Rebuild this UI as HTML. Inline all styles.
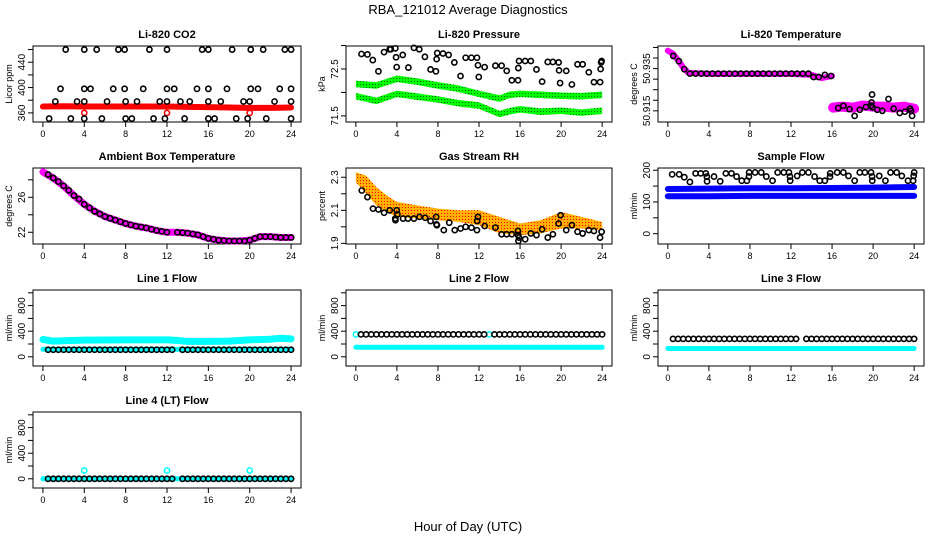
<!DOCTYPE html>
<html><head><meta charset="utf-8"><style>
html,body{margin:0;padding:0;background:#fff}
svg{display:block;font-family:"Liberation Sans",sans-serif}
</style></head><body>
<svg id="chart" width="936" height="540" viewBox="0 0 936 540">
<text x="468" y="14" text-anchor="middle" font-size="13">RBA_121012  Average Diagnostics</text>
<text x="468" y="531" text-anchor="middle" font-size="13">Hour of Day (UTC)</text>
</svg>
<script>
// ---- data ----
const co2TopX=[2.2,4,5.2,7.3,7.9,10.3,12,15.4,16,18.3,20.1,21.3,23.4,24];
const co2Row2X=[1.7,4,4.6,6.8,7.9,9.7,12,12.7,14.9,16,17.8,20.1,20.8,22.9,24];
const co2Row3X=[1.2,3.3,4,6.2,8,9.1,11.3,12,13.3,14.2,16,17.2,19.4,20,22.4,24];
const co2Row4X=[0.6,2.7,4,5.7,8,8.6,10.7,11.8,13.7,16,16.6,18.7,19.8,21.6,24];
const co2Levels=[460,398,378,351];
const co2BandX=[0,2,4,6,8,10,12,14,16,18,20,22,24];
const co2BandY=[370,370.5,370,370,370,370,370,369.5,369,368.5,368,368,368.5];
const co2OutX=[4,12,20];
const co2OutY=[360,360,360];

const presX=[0.55,1.13,1.65,2.2,2.75,3.3,3.4,3.85,3.92,3.98,4.57,5.12,5.66,6.18,6.73,7.28,7.8,7.87,7.93,8.49,9.04,9.6,10.2,10.7,11.26,11.8,11.9,11.98,12.55,13.6,14.2,14.7,15.2,15.8,15.83,15.9,16.5,17.05,17.6,18.15,18.7,19.2,19.76,19.8,19.9,20.5,21.05,21.6,22.1,22.7,23.2,23.8,23.85,23.9,23.95];
const presY=[72.82,72.81,72.69,72.45,72.86,72.92,72.92,72.94,72.75,72.54,72.80,72.53,72.95,72.92,72.76,72.49,72.45,72.71,72.84,72.83,72.80,72.64,72.35,72.74,72.74,72.74,72.58,72.33,72.54,72.57,72.57,72.46,72.26,72.26,72.52,72.67,72.67,72.67,72.49,72.23,72.65,72.65,72.64,72.47,72.2,72.46,72.17,72.6,72.6,72.43,72.22,72.22,72.5,72.64,72.67];
const presHrs=[0,2,4,6,8,10,12,14,15,16,18,20,22,24];
const presUpper=[72.18,72.15,72.29,72.23,72.15,72.08,71.97,71.87,71.95,71.97,71.95,71.93,71.92,71.95];
const presLower=[71.92,71.82,71.97,71.91,71.85,71.77,71.72,71.54,71.6,71.64,71.59,71.61,71.57,71.61];

const tempHrsA=[0,0.5,1,1.5,2,4,8,12,14,15,16];
const tempValsA=[50.9435,50.942,50.939,50.9355,50.933,50.9325,50.9325,50.9325,50.932,50.9305,50.9315];
const tempHrsB=[16.1,17,18,19,20,21,22,23,24];
const tempValsB=[50.9165,50.917,50.9165,50.9175,50.917,50.917,50.9165,50.917,50.916];
const tempPtX=[0.52,1.07,1.6,2.15,2.7,3.25,3.8,4.35,4.9,5.45,6,6.55,7.1,7.65,8.2,8.75,9.3,9.85,10.4,10.95,11.5,12.05,12.6,13.15,13.7,14.2,14.7,15.3,15.9,16.6,17.1,17.7,18.2,18.7,19.3,19.8,19.85,19.9,19.95,20.4,20.9,21.5,22,22.6,23.1,23.6,23.7,23.8];
const tempPtY=[50.941,50.9385,50.9347,50.9326,50.9326,50.9326,50.9326,50.9326,50.9326,50.9326,50.9326,50.9326,50.9326,50.9326,50.9326,50.9326,50.9326,50.9326,50.9326,50.9326,50.9326,50.9326,50.9326,50.9326,50.9326,50.931,50.931,50.932,50.9315,50.9163,50.9174,50.9158,50.9126,50.9155,50.9168,50.9174,50.919,50.9227,50.9166,50.9155,50.915,50.9206,50.916,50.914,50.9146,50.916,50.915,50.9126];

const ambHrs=[0,1,2,3,4,5,6,7,8,9,10,11,12,13,14,15,16,17,18,19,20,21,22,23,24];
const ambVals=[28.9,28.2,27.3,26.2,25.2,24.4,23.8,23.4,23.0,22.7,22.5,22.2,22.0,22.0,21.9,21.7,21.3,21.1,21.0,21.0,21.1,21.5,21.5,21.4,21.4];
const ambPtX=[0.5,1,1.5,2,2.5,3,3.5,4,4.5,5,5.5,6,6.5,7,7.5,8,8.5,9,9.5,10,10.5,11,11.5,12,13,13.5,14,14.5,15,15.5,16,16.5,17,17.5,18,18.5,19,19.5,20,20.5,21,21.5,22,22.5,23,23.5,24];
const ambPtY=[28.6,28.2,27.8,27.3,26.8,26.2,25.8,25.2,24.8,24.4,24.1,23.8,23.6,23.4,23.2,23.0,22.85,22.7,22.6,22.5,22.35,22.2,22.1,22.0,22.0,21.95,21.9,21.8,21.7,21.5,21.3,21.2,21.1,21.05,21.0,21.0,21.0,21.0,21.1,21.3,21.5,21.5,21.5,21.45,21.4,21.4,21.4];

const rhHrs=[0,1,2,3,4,6,8,10,12,14,16,18,20,22,24];
const rhHi=[2.33,2.31,2.24,2.19,2.15,2.13,2.11,2.10,2.10,2.06,2.02,2.04,2.09,2.06,2.03];
const rhLo=[2.27,2.20,2.13,2.09,2.06,2.05,2.04,2.03,2.01,1.96,1.95,1.96,1.99,1.99,1.98];
const rhPtX=[0.58,1.13,1.67,2.2,2.75,3.3,3.84,3.86,3.98,4.05,4.6,5.08,5.66,6.2,6.76,7.28,7.83,7.85,7.9,8.57,9.1,9.64,10.2,10.7,11.26,11.8,11.82,11.9,12.55,13.6,14.2,14.7,15.2,15.8,15.82,15.84,15.9,16.5,17.05,17.6,18.15,18.7,19.2,19.76,19.95,20.5,21.05,21.6,22.1,22.7,23.2,23.8,23.95];
const rhPtY=[2.22,2.18,2.11,2.105,2.085,2.10,2.05,2.04,2.10,2.075,2.05,2.05,2.05,2.06,2.055,2.035,2.06,2.015,2.01,1.98,2.025,1.98,1.99,2.0,1.995,1.98,2.035,2.06,2.005,1.995,1.955,1.955,1.955,1.975,1.95,1.915,1.935,1.925,1.96,1.95,1.985,1.935,1.955,2.02,2.07,1.98,2.01,1.97,1.96,1.98,1.975,1.935,1.97];

const sfPtX=[0.42,1.1,1.6,2.15,2.7,3.2,3.7,3.8,3.82,4.5,5.1,5.65,6.2,6.7,7.2,7.7,7.9,7.92,8.5,9.1,9.6,10.2,10.7,11.3,11.8,11.9,11.92,12.6,13.1,13.7,14.3,14.8,15.3,15.8,15.82,16.5,17.1,17.6,18.2,18.7,19.2,19.8,19.9,19.92,20.6,21.2,21.7,22.3,22.8,23.4,23.9,23.95,24];
const sfPtY=[187,187,178,163,190,190,190,180,165,180,165,190,190,180,167,167,180,193,193,193,180,167,193,193,193,180,167,182,193,193,180,167,167,180,190,193,193,182,167,193,193,193,180,167,182,167,193,193,182,167,167,182,193];
const sfHrs=[0,4,8,12,16,20,24];
const sfUpper=[141,142,143,143,144,145,147];
const sfLower=[118,118,119,119,119,119,119];

const flowHrs=[0.5,1,1.5,2,2.5,3,3.5,4,4.5,5,5.5,6,6.5,7,7.5,8,8.5,9,9.5,10,10.5,11,11.5,12,12.5,13.5,14,14.5,15,15.5,16,16.5,17,17.5,18,18.5,19,19.5,20,20.5,21,21.5,22,22.5,23,23.5,24];
const bandHrs=[0,1,2,4,8,12,13,14,16,18,20,22,23,24];
const l1Upper=[270,245,250,260,265,265,255,240,240,245,265,275,290,280];
const l1Lower=[118,118,118,118,118,118,118,118,118,118,118,118,118,118];
const l1Black=[110,110,110,110,110,110,110,110,110,110,110,110,110,110,110,110,110,110,110,110,110,110,110,110,110,110,110,110,110,110,110,110,110,110,110,110,110,110,110,110,110,110,110,110,110,110,110];
const l2Band=[150,150,150,150,150,150,150,150,150,150,150,150,150,150];
const l2Black=[350,350,350,350,350,350,350,350,350,350,350,350,350,350,350,350,350,350,350,350,350,350,350,350,350,350,350,350,350,350,350,350,350,350,350,350,350,350,350,350,350,350,350,350,350,350,350];
const l3Band=[130,130,130,130,130,130,130,130,130,130,130,130,130,130];
const l3Black=[280,280,280,280,280,280,280,280,280,280,280,280,280,280,280,280,280,280,280,280,280,280,280,280,280,280,280,280,280,280,280,280,280,280,280,280,280,280,280,280,280,280,280,280,280,280,280];
const l4Band=[0,0,0,0,0,0,0,0,0,0,0,0,0,0];
const l4Black=[0,0,0,0,0,0,0,0,0,0,0,0,0,0,0,0,0,0,0,0,0,0,0,0,0,0,0,0,0,0,0,0,0,0,0,0,0,0,0,0,0,0,0,0,0,0,0];
const l4OutX=[4,12,20];
const l4OutY=[130,130,130];
const l2CyanX=[0,13];
const l2CyanY=[350,350];

const xTicks=[0,4,8,12,16,20,24];

// ---- drawing ----
const NS="http://www.w3.org/2000/svg";
const svg=document.getElementById('chart');
const colL=[33,346,658], colR=[301,612,924], rowT=[46,168,290,412], H=76;
function mk(tag,parent){const e=document.createElementNS(NS,tag);parent.appendChild(e);return e;}
function panel(col,row,title,lo,hi,ticks,labels,ylab,name){
  const g=mk('g',svg);
  
  
  const L=colL[col],R=colR[col],T=rowT[row],B=T+H;
  const w=(R-L)/1.08;
  const sx=h=>L+(R-L-w)/2+h/24*w;
  const sy=v=>B-(v-lo)/(hi-lo)*H;
  const box=mk('rect',g);
  box.setAttribute('x',L);box.setAttribute('y',T);box.setAttribute('width',R-L);box.setAttribute('height',H);
  box.setAttribute('fill','none');box.setAttribute('stroke','#000');
  
  
  const t=mk('text',g);t.textContent=title;
  t.setAttribute('x',(L+R)/2);t.setAttribute('y',T-8);t.setAttribute('text-anchor','middle');
  t.setAttribute('font-size','11');t.setAttribute('font-weight','bold');
  
  
  const ax=mk('g',g);
  
  
  const al=mk('line',ax);al.setAttribute('x1',sx(0));al.setAttribute('x2',sx(24));al.setAttribute('y1',B);al.setAttribute('y2',B);al.setAttribute('stroke','#000');
  xTicks.forEach(h=>{
    const l=mk('line',ax);l.setAttribute('x1',sx(h));l.setAttribute('x2',sx(h));l.setAttribute('y1',B);l.setAttribute('y2',B+5);l.setAttribute('stroke','#000');
    const tx=mk('text',ax);tx.textContent=h;tx.setAttribute('x',sx(h));tx.setAttribute('y',B+15);tx.setAttribute('text-anchor','middle');tx.setAttribute('font-size','9');
    
    
  });
  const ay=mk('g',g);
  
  
  const yl=mk('line',ay);yl.setAttribute('x1',L);yl.setAttribute('x2',L);yl.setAttribute('y1',sy(ticks[0]));yl.setAttribute('y2',sy(ticks[ticks.length-1]));yl.setAttribute('stroke','#000');
  ticks.forEach(v=>{
    const l=mk('line',ay);l.setAttribute('x1',L-5);l.setAttribute('x2',L);l.setAttribute('y1',sy(v));l.setAttribute('y2',sy(v));l.setAttribute('stroke','#000');
  });
  labels.forEach(v=>{
    const tx=mk('text',ay);tx.textContent=v;
    tx.setAttribute('transform','translate('+(L-8)+','+sy(v)+') rotate(-90)');
    tx.setAttribute('text-anchor','middle');tx.setAttribute('font-size','10');
    
    
  });
  const yt=mk('text',ay);yt.textContent=ylab;
  yt.setAttribute('transform','translate('+(L-21)+','+(T+H/2)+') rotate(-90)');
  yt.setAttribute('text-anchor','middle');yt.setAttribute('font-size','9');
  
  
  return {g,sx,sy};
}
function band(p,xs,ys,color,width,name){
  const pl=mk('polyline',p.g);
  pl.setAttribute('points',xs.map((h,i)=>p.sx(h)+','+p.sy(ys[i])).join(' '));
  pl.setAttribute('fill','none');pl.setAttribute('stroke',color);pl.setAttribute('stroke-width',width);
  pl.setAttribute('stroke-linejoin','round');pl.setAttribute('stroke-linecap','round');
  
  
  return pl;
}
function pts(p,xs,ys,color,name){
  xs.forEach((h,i)=>{
    const c=mk('circle',p.g);
    c.setAttribute('cx',p.sx(h));c.setAttribute('cy',p.sy(ys[i]));c.setAttribute('r',2.6);
    c.setAttribute('fill','none');c.setAttribute('stroke',color);c.setAttribute('stroke-width',1.6);
    
    
  });
}
function area(p,xs,hi,lo,fill,name){
  const pg=mk('polygon',p.g);
  const a=xs.map((h,i)=>p.sx(h)+','+p.sy(hi[i]));
  const b=xs.map((h,i)=>p.sx(h)+','+p.sy(lo[i])).reverse();
  pg.setAttribute('points',a.concat(b).join(' '));
  pg.setAttribute('fill',fill);
  
  
}
const defs=mk('defs',svg);
defs.innerHTML='<pattern id="dotR" width="3" height="3" patternUnits="userSpaceOnUse"><rect width="3" height="3" fill="#ffb000"/><rect width="1" height="1" fill="#ff0000"/></pattern><pattern id="dotG" width="3" height="3" patternUnits="userSpaceOnUse"><rect width="3" height="3" fill="#00ff00"/><rect width="1" height="1" fill="#006600"/></pattern>';

// CO2
let p=panel(0,0,'Li-820 CO2',345.6,465.6,[360,380,400,420,440,460],[360,400,440],'Licor ppm','co2');
band(p,co2BandX,co2BandY,'#ff0000',6,'co2-band');
pts(p,co2OutX,co2OutY,'#ff0000','co2-outlier');
[co2TopX,co2Row2X,co2Row3X,co2Row4X].forEach((xs,k)=>pts(p,xs,xs.map(()=>co2Levels[k]),'#000','co2-point'));
// Pressure
p=panel(1,0,'Li-820 Pressure',71.37,72.99,[71.5,72,72.5,73],[71.5,72.5],'kPa','pressure');
area(p,presHrs,presUpper.map(v=>v+0.07),presUpper.map(v=>v-0.07),'url(#dotG)','pressure-upper-band');
area(p,presHrs,presLower.map(v=>v+0.07),presLower.map(v=>v-0.07),'url(#dotG)','pressure-lower-band');
pts(p,presX,presY,'#000','pressure-point');
// Temperature
p=panel(2,0,'Li-820 Temperature',50.9097,50.9457,[50.915,50.92,50.925,50.93,50.935,50.94,50.945],[50.915,50.935],'degrees C','licor-temp');
band(p,tempHrsA,tempValsA,'#ff00ff',6,'temp-band-early');
band(p,tempHrsB,tempValsB,'#ff00ff',10,'temp-band-late');
pts(p,tempPtX,tempPtY,'#000','temp-point');
// Ambient
p=panel(0,1,'Ambient Box Temperature',20.66,29.35,[22,24,26,28],[22,26],'degrees C','ambient');
band(p,ambHrs,ambVals,'#ff00ff',7,'ambient-band');
pts(p,ambPtX,ambPtY,'#000','ambient-point');
// RH
p=panel(1,1,'Gas Stream RH',1.896,2.356,[1.9,2.0,2.1,2.2,2.3],[1.9,2.1,2.3],'percent','rh');
area(p,rhHrs,rhHi,rhLo,'url(#dotR)','rh-band');
pts(p,rhPtX,rhPtY,'#000','rh-point');
// Sample flow
p=panel(2,1,'Sample Flow',-32.5,207,[0,50,100,150,200],[0,100,200],'ml/min','sample-flow');
band(p,sfHrs,sfUpper,'#0000ff',6,'sample-upper-band');
band(p,sfHrs,sfLower,'#0000ff',6,'sample-lower-band');
pts(p,sfPtX,sfPtY,'#000','sample-point');
// Line flows
const fT=[0,200,400,600,800,1000],fL=[0,400,800];
p=panel(0,2,'Line 1 Flow',-144,1044,fT,fL,'ml/min','line1');
band(p,bandHrs,l1Upper,'#00ffff',7,'line1-upper-band');
band(p,bandHrs,l1Lower,'#00ffff',5,'line1-lower-band');
pts(p,flowHrs,l1Black,'#000','line1-point');
p=panel(1,2,'Line 2 Flow',-144,1044,fT,fL,'ml/min','line2');
band(p,bandHrs,l2Band,'#00ffff',5,'line2-band');
pts(p,l2CyanX,l2CyanY,'#00ffff','line2-cyan-point');
pts(p,flowHrs,l2Black,'#000','line2-point');
p=panel(2,2,'Line 3 Flow',-144,1044,fT,fL,'ml/min','line3');
band(p,bandHrs,l3Band,'#00ffff',5,'line3-band');
pts(p,flowHrs,l3Black,'#000','line3-point');
p=panel(0,3,'Line 4 (LT) Flow',-144,1044,fT,fL,'ml/min','line4');
band(p,bandHrs,l4Band,'#00ffff',5,'line4-band');
pts(p,l4OutX,l4OutY,'#00ffff','line4-outlier');
pts(p,flowHrs,l4Black,'#000','line4-point');
</script>
</body></html>
